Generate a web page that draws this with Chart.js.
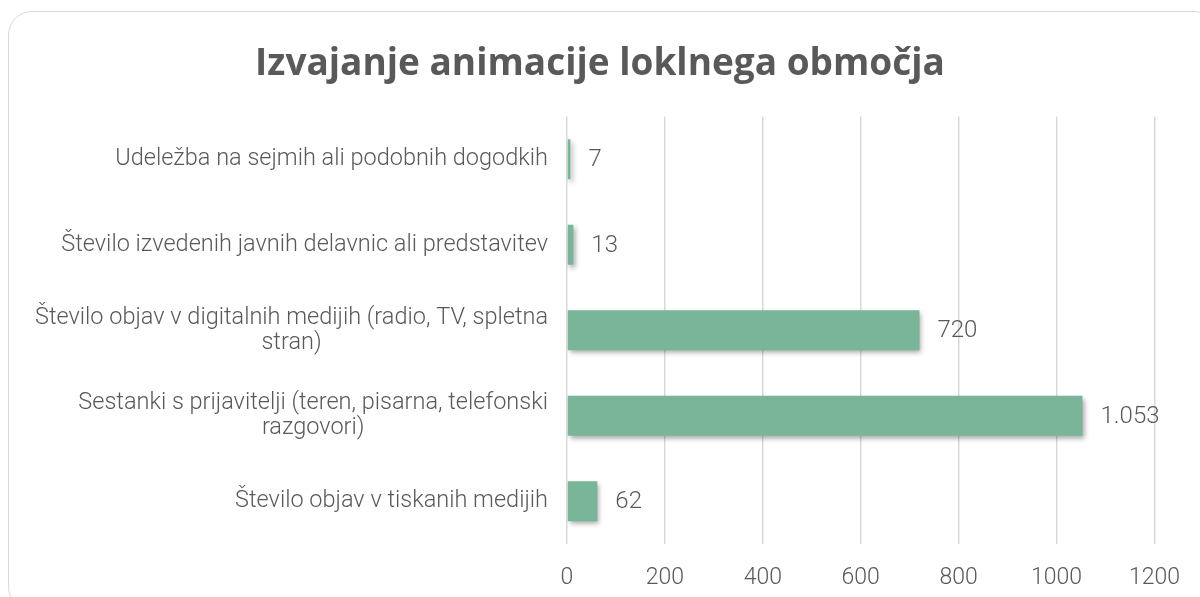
<!DOCTYPE html>
<html>
<head>
<meta charset="utf-8">
<script src="https://cdn.jsdelivr.net/npm/chart.js@4"></script>
<style>
  html, body { margin: 0; padding: 0; background: #fff; }
  #okvir {
    position: absolute; left: 8px; top: 11px; width: 1210px; height: 600px;
    border: 1.5px solid #d9d9d9; border-radius: 24px; box-sizing: border-box;
  }
  #wrap { position: absolute; left: 0; top: 0; width: 1200px; height: 597px; }
</style>
</head>
<body>
<div id="okvir"></div>
<div id="wrap"><canvas id="myChart"></canvas></div>
<script>
const naslov = "Izvajanje animacije loklnega območja"
const kategorije = [
  ["Udeležba na sejmih ali podobnih dogodkih"],
  ["Število izvedenih javnih delavnic ali predstavitev"],
  ["Število objav v digitalnih medijih (radio, TV, spletna", "stran)"],
  ["Sestanki s prijavitelji (teren, pisarna, telefonski", "razgovori)"],
  ["Število objav v tiskanih medijih"]
]
const vrednosti = [7, 13, 720, 1053, 62]
const oznakeOsi = [0, 200, 400, 600, 800, 1000, 1200]

const barva = "#79b699"
const sivaTekst = "#595959"
const pisava = "Roboto"

const formatiraj = (n) => String(n).replace(/\B(?=(\d{3})+(?!\d))/g, ".")

// senca pod stolpci
const senca = {
  id: "senca",
  beforeDatasetDraw(chart) {
    const c = chart.ctx
    c.save()
    c.shadowColor = "rgba(0,0,0,0.35)"
    c.shadowBlur = 5
    c.shadowOffsetX = 2
    c.shadowOffsetY = 3
  },
  afterDatasetDraw(chart) {
    chart.ctx.restore()
  }
}

// oznake kategorij (desno poravnan blok, vrstice sredinsko) in vrednosti
const oznake = {
  id: "oznake",
  afterDraw(chart) {
    const c = chart.ctx
    const y = chart.scales.y
    c.save()
    c.font = `300 23.5px ${pisava}`
    c.fillStyle = sivaTekst
    c.textBaseline = "middle"
    c.textAlign = "center"
    const desno = chart.chartArea.left - 19
    const vrstica = 25
    kategorije.forEach((vrstice, i) => {
      const sred = y.getPixelForValue(i)
      const sirina = Math.max(...vrstice.map(v => c.measureText(v).width))
      const x = desno - sirina / 2
      const zacetek = sred - (vrstice.length - 1) * vrstica / 2
      vrstice.forEach((v, j) => c.fillText(v, x, zacetek + j * vrstica))
    })
    const meta = chart.getDatasetMeta(0)
    c.font = `300 24px ${pisava}`
    c.textAlign = "left"
    meta.data.forEach((bar, i) => {
      c.fillText(formatiraj(vrednosti[i]), bar.x + 18, bar.y + 1)
    })
    c.restore()
  }
}

const ctx = document.getElementById("myChart")
const myChart = new Chart(ctx, {
  type: "bar",
  data: {
    labels: kategorije.map(k => k.join(" ")),
    datasets: [{
      data: vrednosti,
      backgroundColor: barva,
      barPercentage: 0.9,
      categoryPercentage: 0.52
    }]
  },
  options: {
    indexAxis: "y",
    responsive: true,
    maintainAspectRatio: false,
    animation: false,
    layout: { padding: { left: 43, right: 43, top: 42, bottom: 5 } },
    plugins: {
      legend: { display: false },
      tooltip: { enabled: false },
      title: {
        display: true,
        text: naslov,
        color: sivaTekst,
        font: { family: "Open Sans", size: 37, weight: "bold" },
        padding: { top: 0, bottom: 30 }
      }
    },
    scales: {
      x: {
        min: 0,
        max: 1200,
        afterBuildTicks: (axis) => { axis.ticks = oznakeOsi.map(v => ({ value: v })) },
        afterFit: (scale) => { scale.height = 48 },
        grid: { color: "#d9d9d9", lineWidth: 1.5, drawTicks: false },
        border: { display: false },
        ticks: {
          color: sivaTekst,
          font: { family: pisava, size: 23, weight: 300 },
          padding: 20,
          callback: (v) => String(v)
        }
      },
      y: {
        grid: { display: false },
        border: { display: false },
        ticks: { display: false },
        afterFit: (scale) => { scale.width = 567 - 43 }
      }
    }
  },
  plugins: [senca, oznake]
})
</script>
</body>
</html>
